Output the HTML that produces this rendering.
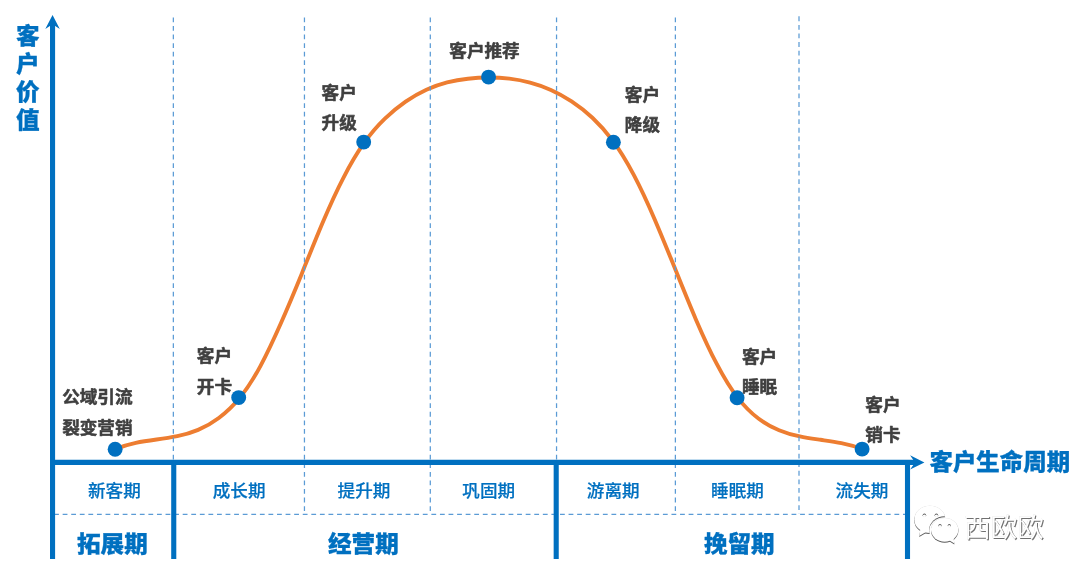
<!DOCTYPE html>
<html lang="zh-CN">
<head>
<meta charset="utf-8">
<title>客户生命周期</title>
<style>
html,body{margin:0;padding:0;background:#fff;}
body{width:1080px;height:575px;overflow:hidden;position:relative;font-family:"Liberation Sans","Noto Sans CJK SC",sans-serif;}
#stage{position:absolute;left:0;top:0;width:1080px;height:575px;will-change:transform;transform:translateZ(0);}
svg{position:absolute;left:0;top:0;display:block;}
text{font-family:"Liberation Sans","Noto Sans CJK SC",sans-serif;}
.lab{font-size:17.6px;font-weight:700;fill:#3f3f3f;stroke:#3f3f3f;stroke-width:.55px;stroke-linejoin:round;}
.sub{font-size:17.6px;font-weight:500;fill:#0070c0;stroke:#0070c0;stroke-width:.2px;stroke-linejoin:round;text-anchor:middle;}
.grp{font-size:23.6px;font-weight:900;fill:#0070c0;stroke:#0070c0;stroke-width:.3px;stroke-linejoin:round;text-anchor:middle;}
.axl{font-size:23.6px;font-weight:900;fill:#0070c0;stroke:#0070c0;stroke-width:.3px;stroke-linejoin:round;}
.dash{stroke:#5b9bd5;stroke-width:1.25;stroke-dasharray:4.8 3.775;fill:none;}
.thick{stroke:#0070c0;stroke-width:5.1;fill:none;}
.dot{fill:#0070c0;}
</style>
</head>
<body>
<div id="stage">
<svg width="1080" height="575" viewBox="0 0 1080 575">
<!-- life-cycle curve -->
<path d="M115.1 449.3 C122.0 446.2 128.9 444.2 135.8 442.8 C142.8 441.3 149.7 440.4 156.6 439.5 C163.5 438.6 170.4 437.6 177.3 436.2 C184.3 434.8 191.2 432.8 198.1 429.9 C205.0 427.0 211.9 423.2 218.8 418.0 C225.8 412.9 232.7 406.5 239.6 398.1 C246.5 389.7 253.4 379.1 260.4 366.1 C267.3 353.1 274.2 338.3 281.1 322.7 C288.0 307.1 294.9 290.5 301.9 273.4 C308.8 256.4 315.7 239.1 322.6 222.8 C329.5 206.5 336.4 191.2 343.4 177.8 C350.3 164.3 357.2 152.7 364.1 142.9 C371.0 133.2 377.9 125.3 384.9 118.6 C391.8 111.9 398.7 106.4 405.6 101.6 C412.5 96.9 419.4 92.9 426.4 89.7 C433.3 86.6 440.2 84.2 447.1 82.4 C454.0 80.6 460.9 79.4 467.9 78.7 C474.8 77.9 481.7 77.5 488.6 77.5 C495.5 77.5 502.4 77.8 509.4 78.6 C516.3 79.4 523.2 80.7 530.1 82.6 C537.0 84.4 543.9 86.8 550.9 90.0 C557.8 93.1 564.7 96.9 571.6 101.4 C578.5 106.0 585.4 111.3 592.4 117.7 C599.3 124.1 606.2 131.7 613.1 141.2 C620.0 150.6 626.9 162.0 633.9 175.1 C640.8 188.2 647.7 203.1 654.6 219.2 C661.5 235.2 668.4 252.4 675.4 269.5 C682.3 286.6 689.2 303.8 696.1 319.9 C703.0 335.9 709.9 351.0 716.9 364.2 C723.8 377.4 730.7 388.7 737.6 397.6 C744.5 406.5 751.4 413.2 758.4 418.5 C765.3 423.7 772.2 427.4 779.1 430.2 C786.0 433.1 792.9 435.0 799.9 436.4 C806.8 437.9 813.7 438.8 820.6 439.8 C827.5 440.8 834.4 441.7 841.4 443.1 C848.3 444.5 855.2 446.3 862.1 449.0" fill="none" stroke="#ed7d31" stroke-width="3.9" stroke-linecap="round"/>
<!-- dashed guides -->
<g class="dash">
<line x1="173.35" y1="17.4" x2="173.35" y2="460"/>
<line x1="304.45" y1="17.4" x2="304.45" y2="511"/>
<line x1="430.3" y1="17.4" x2="430.3" y2="511"/>
<line x1="556.55" y1="17.4" x2="556.55" y2="460"/>
<line x1="675.38" y1="17.4" x2="675.38" y2="511"/>
<line x1="799" y1="16.35" x2="799" y2="514"/>
<line x1="54.07" y1="514.4" x2="905" y2="514.4"/>
</g>
<!-- axes -->
<g class="thick">
<line x1="52.55" y1="24" x2="52.55" y2="559"/>
<line x1="50" y1="462.4" x2="916" y2="462.4"/>
<line x1="173.75" y1="462" x2="173.75" y2="559"/>
<line x1="556.2" y1="462" x2="556.2" y2="559"/>
<line x1="907.5" y1="462" x2="907.5" y2="559"/>
</g>
<path d="M52.55 14.9 L59.8 29 L52.55 24.2 L45.3 29 Z" fill="#0070c0"/>
<path d="M924.4 462.4 L910.1 455.2 L915 462.4 L910.1 469.5 Z" fill="#0070c0"/>
<!-- dots -->
<g class="dot">
<circle cx="115.13" cy="449.2" r="7.45"/>
<circle cx="238.7" cy="397.6" r="7.45"/>
<circle cx="363.7" cy="142.1" r="7.45"/>
<circle cx="488.55" cy="77.1" r="7.45"/>
<circle cx="613.4" cy="142.2" r="7.45"/>
<circle cx="737.1" cy="397.7" r="7.45"/>
<circle cx="862.1" cy="449.1" r="7.45"/>
</g>
<!-- point labels -->
<g class="lab">
<text transform="translate(62.2 402.7) scale(1 .955)">公域引流</text>
<text transform="translate(62.2 433.7) scale(1 .955)">裂变营销</text>
<text transform="translate(196.8 361.7) scale(1 .955)">客户</text>
<text transform="translate(196.8 392.7) scale(1 .955)">开卡</text>
<text transform="translate(321.6 98.6) scale(1 .955)">客户</text>
<text transform="translate(321.6 128.7) scale(1 .955)">升级</text>
<text transform="translate(449.3 56.7) scale(1 .955)">客户推荐</text>
<text transform="translate(624.8 100.7) scale(1 .955)">客户</text>
<text transform="translate(624.8 131.2) scale(1 .955)">降级</text>
<text transform="translate(742.0 362.8) scale(1 .955)">客户</text>
<text transform="translate(742.0 392.7) scale(1 .955)">睡眠</text>
<text transform="translate(865.3 410.7) scale(1 .955)">客户</text>
<text transform="translate(865.3 440.9) scale(1 .955)">销卡</text>
</g>
<!-- stage labels -->
<g class="sub">
<text x="114.4" y="496.8">新客期</text>
<text x="239.1" y="496.8">成长期</text>
<text x="364" y="496.8">提升期</text>
<text x="488.7" y="496.8">巩固期</text>
<text x="613.2" y="496.8">游离期</text>
<text x="737.5" y="496.8">睡眠期</text>
<text x="862" y="496.8">流失期</text>
</g>
<g class="grp">
<text transform="translate(112.4 551.6) scale(1 .955)">拓展期</text>
<text transform="translate(363.4 551.6) scale(1 .955)">经营期</text>
<text transform="translate(739.3 551.6) scale(1 .955)">挽留期</text>
</g>
<!-- axis labels -->
<g class="axl">
<text transform="translate(27.7 43.8) scale(1 .955)" text-anchor="middle">客</text>
<text transform="translate(27.7 71.6) scale(1 .955)" text-anchor="middle">户</text>
<text transform="translate(27.7 99.9) scale(1 .955)" text-anchor="middle">价</text>
<text transform="translate(27.7 128.0) scale(1 .955)" text-anchor="middle">值</text>
<text transform="translate(929.5 469.6) scale(1 .955)" style="font-size:23.45px">客户生命周期</text>
</g>
<!-- watermark -->
<defs>
<filter id="emb" x="-5%" y="-10%" width="112%" height="125%" color-interpolation-filters="sRGB">
<feGaussianBlur in="SourceAlpha" stdDeviation="0.35" result="b"/>
<feOffset in="b" dx="0.75" dy="0.8" result="o"/>
<feFlood flood-color="#333" flood-opacity="0.7"/>
<feComposite in2="o" operator="in" result="s"/>
<feGaussianBlur in="SourceAlpha" stdDeviation="0.5" result="g0"/>
<feFlood flood-color="#666" flood-opacity="0.35"/>
<feComposite in2="g0" operator="in" result="g"/>
<feMerge><feMergeNode in="g"/><feMergeNode in="s"/><feMergeNode in="SourceGraphic"/></feMerge>
</filter>
<filter id="embi" x="-10%" y="-10%" width="120%" height="125%" color-interpolation-filters="sRGB">
<feGaussianBlur in="SourceAlpha" stdDeviation="0.4" result="b"/>
<feOffset in="b" dx="-0.15" dy="0.9" result="o"/>
<feFlood flood-color="#222" flood-opacity="0.75"/>
<feComposite in2="o" operator="in" result="s"/>
<feGaussianBlur in="SourceAlpha" stdDeviation="0.55" result="g0"/>
<feFlood flood-color="#666" flood-opacity="0.4"/>
<feComposite in2="g0" operator="in" result="g"/>
<feMerge><feMergeNode in="g"/><feMergeNode in="s"/><feMergeNode in="SourceGraphic"/></feMerge>
</filter>
<mask id="cutA" maskUnits="userSpaceOnUse" x="905" y="498" width="70" height="52">
<rect x="905" y="498" width="70" height="52" fill="#fff"/>
<ellipse cx="944.7" cy="529.8" rx="15.5" ry="13.6" fill="#000"/>
<circle cx="924.4" cy="515.3" r="1.7" fill="#000"/><circle cx="936.4" cy="515.2" r="1.7" fill="#000"/>
</mask>
<mask id="cutB" maskUnits="userSpaceOnUse" x="905" y="498" width="70" height="52">
<rect x="905" y="498" width="70" height="52" fill="#fff"/>
<circle cx="940" cy="525.6" r="1.55" fill="#000"/><circle cx="949.3" cy="525.6" r="1.55" fill="#000"/>
</mask>
</defs>
<g id="wm">
<g filter="url(#embi)" fill="#fff">
<g mask="url(#cutA)"><ellipse cx="929.9" cy="519.4" rx="15.6" ry="13.6"/><path d="M920.3 529.5 L919.2 536 L926.5 531.8 Z"/></g>
<g mask="url(#cutB)"><ellipse cx="944.7" cy="529.8" rx="13.7" ry="11.9"/><path d="M949.5 540.5 L954.4 543.6 L953.6 538.2 Z"/></g>
</g>
<text x="964.2" y="536.5" filter="url(#emb)" style="font-size:26.5px;font-weight:400;fill:#fff">西欧欧</text>
</g>
</svg>
</div>
</body>
</html>
